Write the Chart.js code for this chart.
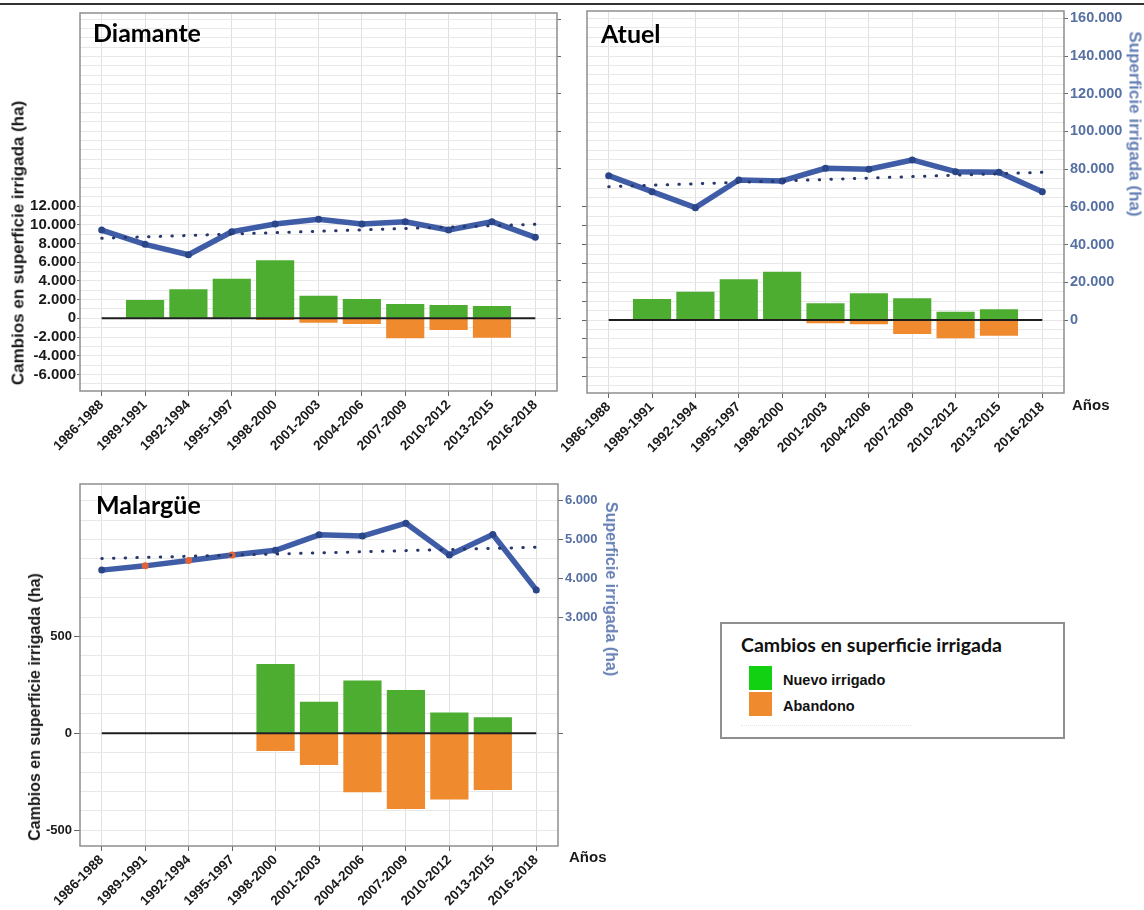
<!DOCTYPE html>
<html lang="es">
<head>
<meta charset="utf-8">
<title>Superficie irrigada - Diamante, Atuel, Malargüe</title>
<script src="https://cdn.jsdelivr.net/npm/chart.js@4.4.1/dist/chart.umd.min.js"></script>
<style>
  body { margin: 0; background: #fff; }
  #page { position: relative; width: 1144px; height: 910px; overflow: hidden; background: #fff;
          font-family: "Liberation Sans", Arial, sans-serif; color: #111; }
  canvas { position: absolute; }
  .topline { position: absolute; left: 0; top: 3px; width: 1144px; height: 2px; background: #333; }
  .panel-title { position: absolute; font-family: Lato, sans-serif; font-weight: 700; font-size: 25px; line-height: 1; color: #000; white-space: nowrap; }
  .axis-title { position: absolute; font-weight: 700; line-height: 1; white-space: nowrap; }
  .left-title { transform: translate(-50%, -50%) rotate(-90deg); color: #1a1a1a; }
  .right-title { transform: translate(-50%, -50%) rotate(90deg); color: #6680b4; }
  .anos { position: absolute; font-weight: 700; font-size: 15px; line-height: 1; color: #1a1a1a; }
  #legend { position: absolute; left: 720px; top: 622px; width: 345px; height: 117px; box-sizing: border-box; border: 2px solid #8f8f8f; background: #fff; }
  #legend .ltitle { position: absolute; left: 19px; top: 11px; font-family: Lato, sans-serif; font-weight: 700; font-size: 19.5px; line-height: 1; color: #111; white-space: nowrap; }
  #legend .sw { position: absolute; left: 27px; width: 23px; height: 24px; }
  #legend .item { position: absolute; left: 61px; font-weight: 700; font-size: 14.5px; line-height: 1; color: #111; white-space: nowrap; }
  #legend .faint { position: absolute; left: 19px; top: 101px; width: 170px; border-top: 1px dotted #e6e6e6; }
</style>
</head>
<body>
<div id="page">
  <div class="topline"></div>

  <canvas id="diamante" width="570" height="460" style="left:0px; top:0px;"></canvas>
  <canvas id="atuel" width="599" height="460" style="left:545px; top:0px;"></canvas>
  <canvas id="malargue" width="630" height="440" style="left:0px; top:470px;"></canvas>

  <div class="panel-title" style="left:93px; top:20px;">Diamante</div>
  <div class="panel-title" style="left:601px; top:21px;">Atuel</div>
  <div class="panel-title" style="left:96px; top:492px;">Malargüe</div>

  <div class="axis-title left-title" style="left:18px; top:243px; font-size:17px;">Cambios en superficie irrigada (ha)</div>
  <div class="axis-title left-title" style="left:35px; top:707px; font-size:16px;">Cambios en superficie irrigada (ha)</div>
  <div class="axis-title right-title" style="left:1135px; top:124px; font-size:17px;">Superficie irrigada (ha)</div>
  <div class="axis-title right-title" style="left:611px; top:589px; font-size:16px;">Superficie irrigada (ha)</div>

  <div class="anos" style="left:1072px; top:397px;">Años</div>
  <div class="anos" style="left:569px; top:849px;">Años</div>

  <div id="legend">
    <div class="ltitle">Cambios en superficie irrigada</div>
    <div class="sw" style="top:42px; background:#12d012;"></div>
    <div class="item" style="top:49px;">Nuevo irrigado</div>
    <div class="sw" style="top:68px; background:#ef8a2e;"></div>
    <div class="item" style="top:75px;">Abandono</div>
    <div class="faint"></div>
  </div>
</div>

<script>
// periods on the x axis
const categories = ['1986-1988', '1989-1991', '1992-1994', '1995-1997', '1998-2000', '2001-2003',
                    '2004-2006', '2007-2009', '2010-2012', '2013-2015', '2016-2018'];
const baseline = [0, 0, 0, 0, 0, 0, 0, 0, 0, 0, 0];

// Diamante (ha)
const diamanteArea  = [9440, 7910, 6800, 9260, 10090, 10590, 10090, 10330, 9440, 10330, 8660];
const diamanteTrend = [8560, null, null, null, null, null, null, null, null, null, 10050];
const diamanteNew   = [null, 1960, 3100, 4240, 6200, 2420, 2060, 1530, 1420, 1320, null];
const diamanteLost  = [null, 0, 0, 0, -180, -470, -610, -2140, -1250, -2080, null];
const diamanteLeftTicks  = [-6000, -4000, -2000, 0, 2000, 4000, 6000, 8000, 10000, 12000];
const diamanteRightTicks = [0, 4000, 8000, 12000, 16000, 20000, 24000, 28000, 32000];

// Atuel (ha)
const atuelArea  = [76550, 68060, 59580, 74270, 73740, 80480, 79950, 84880, 78670, 78320, 68060];
const atuelTrend = [70720, null, null, null, null, null, null, null, null, null, 78320];
const atuelNew   = [null, 11140, 15010, 21590, 25620, 8860, 14160, 11510, 4400, 5680, null];
const atuelLost  = [null, 0, 0, -500, -300, -1770, -2300, -7430, -9730, -8310, null];
const atuelLeftTicks  = [-30000, -20000, -10000, 0, 10000, 20000, 30000, 40000, 50000, 60000];
const atuelRightTicks = [0, 20000, 40000, 60000, 80000, 100000, 120000, 140000, 160000];

// Malargüe (ha)
const malargueArea  = [4210, 4320, 4460, 4600, 4720, 5120, 5090, 5420, 4600, 5130, 3700];
const malargueTrend = [4510, null, null, null, null, null, null, null, null, null, 4800];
const malargueNew   = [null, null, null, null, 357, 163, 272, 224, 107, 83, null];
const malargueLost  = [null, null, null, null, -91, -164, -304, -391, -341, -293, null];
const malargueLeftTicks  = [-500, 0, 500];
const malargueRightTicks = [0, 3000, 4000, 5000, 6000];
const malargueRightLabels = [3000, 4000, 5000, 6000];

const fontFamily = "'Liberation Sans', Arial, sans-serif";
const fmt = (v) => String(v).replace(/\B(?=(\d{3})+(?!\d))/g, '.');
const steps = (from, to, step) => {
    const out = [];
    for (let v = from; v <= to; v += step) out.push(v);
    return out;
};

const frame = {
    id: 'frame',
    beforeDatasetsDraw: (chart) => {
        const { ctx, chartArea: a } = chart;
        ctx.save();
        ctx.strokeStyle = '#8e8e8e';
        ctx.lineWidth = 1.5;
        ctx.strokeRect(a.left, a.top, a.right - a.left, a.bottom - a.top);
        ctx.restore();
    }
};

function makePanel(id, p) {
    new Chart(document.getElementById(id), {
        type: 'bar',
        data: {
            labels: categories,
            datasets: [
                {
                    type: 'line', data: p.trend, yAxisID: 'y2', spanGaps: true,
                    borderColor: '#28386a', borderWidth: 3, borderDash: [0.5, 11.2], borderCapStyle: 'round',
                    pointRadius: 0, order: 0
                },
                {
                    type: 'line', data: p.area, yAxisID: 'y2',
                    borderColor: '#3f5ca6', borderWidth: 5.5, borderJoinStyle: 'round',
                    pointRadius: 3.5, pointBorderWidth: 0, pointBackgroundColor: p.pointColors || '#2b4589',
                    order: 1
                },
                {
                    type: 'line', data: baseline, yAxisID: 'y',
                    borderColor: '#1e1e1e', borderWidth: 2, pointRadius: 0, order: 2
                },
                {
                    label: 'Nuevo irrigado', data: p.gained, yAxisID: 'y', backgroundColor: '#4cad30',
                    grouped: false, barPercentage: 0.88, categoryPercentage: 1, order: 3
                },
                {
                    label: 'Abandono', data: p.lost, yAxisID: 'y', backgroundColor: '#ef8a2e',
                    grouped: false, barPercentage: 0.88, categoryPercentage: 1, order: 3
                }
            ]
        },
        options: {
            responsive: false,
            animation: false,
            events: [],
            layout: { padding: { top: p.padTop, left: 0, right: 0, bottom: 0 } },
            plugins: { legend: { display: false }, tooltip: { enabled: false } },
            scales: {
                x: {
                    offset: true,
                    afterFit: (s) => { s.height = p.xHeight; },
                    border: { display: false },
                    grid: { offset: false, color: '#e0e0e0', tickLength: 5, tickColor: '#666' },
                    ticks: {
                        autoSkip: false, minRotation: 45, maxRotation: 45, padding: 1,
                        font: { family: fontFamily, weight: 'bold', size: 13.5 }, color: '#1a1a1a'
                    }
                },
                y: {
                    position: 'left', min: p.yMin, max: p.yMax,
                    afterBuildTicks: (s) => { s.ticks = p.yGrid.map(v => ({ value: v })); },
                    afterFit: (s) => { s.width = p.yWidth; },
                    border: { display: false },
                    grid: {
                        color: '#e8e8e8', tickLength: p.yTickLen,
                        tickColor: (c) => (c.tick && p.yTicks.includes(c.tick.value)) ? '#666' : 'rgba(0,0,0,0)'
                    },
                    ticks: {
                        autoSkip: false, padding: p.yPad,
                        font: { family: fontFamily, weight: 'bold', size: p.yFont }, color: '#1a1a1a',
                        callback: (v) => (p.yShowLabels && p.yTicks.includes(v)) ? fmt(v) : ''
                    }
                },
                y2: {
                    position: 'right', min: p.y2Min, max: p.y2Max,
                    afterBuildTicks: (s) => { s.ticks = p.y2Ticks.map(v => ({ value: v })); },
                    afterFit: (s) => { s.width = p.y2Width; },
                    border: { display: false },
                    grid: { drawOnChartArea: false, tickLength: p.y2TickLen, tickColor: '#6a6a6a' },
                    ticks: {
                        autoSkip: false, padding: 2,
                        font: { family: fontFamily, weight: 'bold', size: p.y2Font }, color: '#5670a3',
                        callback: (v) => p.y2Labels.includes(v) ? fmt(v) : ''
                    }
                }
            }
        },
        plugins: [frame]
    });
}

makePanel('diamante', {
    area: diamanteArea, trend: diamanteTrend, gained: diamanteNew, lost: diamanteLost,
    padTop: 13, xHeight: 69, yWidth: 80, y2Width: 13,
    yMin: -7775, yMax: 32650, yGrid: steps(-7000, 32000, 1000), yTicks: diamanteLeftTicks,
    yShowLabels: true, yTickLen: 3, yPad: 1, yFont: 15,
    y2Min: -7775, y2Max: 32650, y2Ticks: diamanteRightTicks, y2Labels: [], y2TickLen: 4, y2Font: 14
});

makePanel('atuel', {
    area: atuelArea, trend: atuelTrend, gained: atuelNew, lost: atuelLost,
    padTop: 11, xHeight: 67, yWidth: 42, y2Width: 80,
    yMin: -38713, yMax: 163870, yGrid: steps(-35000, 160000, 5000), yTicks: atuelLeftTicks,
    yShowLabels: false, yTickLen: 5, yPad: 1, yFont: 15,
    y2Min: -38713, y2Max: 163870, y2Ticks: atuelRightTicks, y2Labels: atuelRightTicks, y2TickLen: 4, y2Font: 14.5
});

makePanel('malargue', {
    area: malargueArea, trend: malargueTrend, gained: malargueNew, lost: malargueLost,
    pointColors: ['#2b4589', '#e0623a', '#e0623a', '#e0623a', '#2b4589', '#2b4589',
                  '#2b4589', '#2b4589', '#2b4589', '#2b4589', '#2b4589'],
    padTop: 14, xHeight: 64, yWidth: 80, y2Width: 72,
    yMin: -581.5, yMax: 1286.4, yGrid: steps(-500, 1200, 100), yTicks: malargueLeftTicks,
    yShowLabels: true, yTickLen: 6, yPad: 2, yFont: 13,
    y2Min: -2907.5, y2Max: 6432, y2Ticks: malargueRightTicks, y2Labels: malargueRightLabels, y2TickLen: 5, y2Font: 13
});
</script>
</body>
</html>
